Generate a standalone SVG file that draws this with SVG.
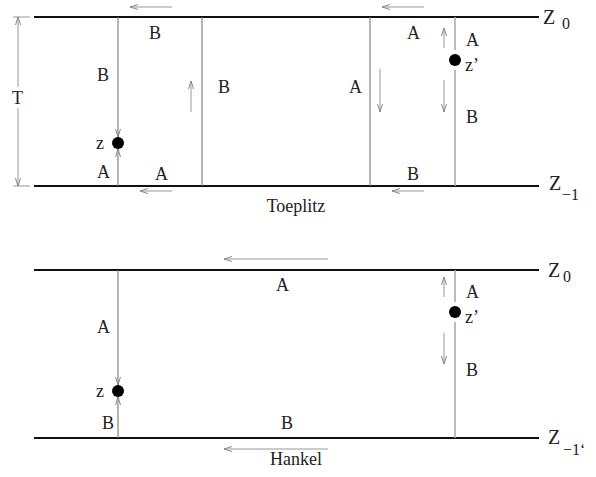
<svg xmlns="http://www.w3.org/2000/svg" width="596" height="477" viewBox="0 0 596 477">
<defs>
<style>
.bg{fill:#fff}
.main{stroke:#111;stroke-width:1.8;fill:none}
.vl{stroke:#777;stroke-width:1.1;fill:none}
.vl2{stroke:#aaa;stroke-width:1.6;fill:none}
.ar{stroke:#999;stroke-width:1;fill:none}
.lbl{font-family:"Liberation Serif","Times New Roman",serif;font-size:18px;fill:#222}
.cap{font-family:"Liberation Serif","Times New Roman",serif;font-size:18px;fill:#222;text-anchor:middle}
.zl{font-family:"Liberation Serif","Times New Roman",serif;font-size:20px;fill:#222}
.sub{font-family:"Liberation Serif","Times New Roman",serif;font-size:16px;fill:#222}
.dot{fill:#000}
</style>
<marker id="ah" viewBox="0 0 8 6" refX="8" refY="3" markerWidth="8" markerHeight="6" markerUnits="userSpaceOnUse" orient="auto">
<path d="M0,0.5 L8,3 L0,5.5" fill="none" stroke="#888" stroke-width="1"/>
</marker>
</defs>
<rect class="bg" x="0" y="0" width="596" height="477"/>

<g id="toeplitz">
<g id="t-lines">
<line class="main" x1="34" y1="17" x2="539" y2="17"/>
<line class="main" x1="34" y1="186" x2="539" y2="186"/>
</g>
<g id="t-dimension">
<line class="ar" x1="13" y1="17" x2="30" y2="17"/>
<line class="ar" x1="13" y1="186" x2="30" y2="186"/>
<line class="ar" x1="18" y1="87" x2="18" y2="17" marker-end="url(#ah)"/>
<line class="ar" x1="18" y1="108" x2="18" y2="186" marker-end="url(#ah)"/>
<text class="lbl" x="12" y="104">T</text>
</g>
<g id="t-connectors">
<line class="vl" x1="118" y1="17" x2="118" y2="137" marker-end="url(#ah)"/>
<line class="vl" x1="118" y1="186" x2="118" y2="149" marker-end="url(#ah)"/>
<line class="vl" x1="202" y1="17" x2="202" y2="186"/>
<line class="vl" x1="370" y1="17" x2="370" y2="186"/>
<line class="vl2" x1="455" y1="17" x2="455" y2="50"/>
<line class="vl2" x1="455" y1="70" x2="455" y2="186"/>
<line class="ar" x1="172" y1="7" x2="130" y2="7" marker-end="url(#ah)"/>
<line class="ar" x1="424" y1="7" x2="382" y2="7" marker-end="url(#ah)"/>
<line class="ar" x1="172" y1="191" x2="140" y2="191" marker-end="url(#ah)"/>
<line class="ar" x1="424" y1="191" x2="392" y2="191" marker-end="url(#ah)"/>
<line class="ar" x1="191" y1="112" x2="191" y2="81" marker-end="url(#ah)"/>
<line class="ar" x1="380" y1="69" x2="380" y2="112" marker-end="url(#ah)"/>
<line class="ar" x1="444" y1="48" x2="444" y2="28" marker-end="url(#ah)"/>
<line class="ar" x1="444" y1="80" x2="444" y2="112" marker-end="url(#ah)"/>
</g>
<g id="t-z">
<circle class="dot" cx="118" cy="143" r="6"/>
<text class="lbl" x="96" y="149">z</text>
</g>
<g id="t-zp">
<circle class="dot" cx="455" cy="60" r="6"/>
<text class="lbl" x="465" y="71">z’</text>
</g>
<g id="t-labels">
<text class="lbl" x="149" y="39">B</text>
<text class="lbl" x="97" y="81">B</text>
<text class="lbl" x="97" y="178">A</text>
<text class="lbl" x="155" y="180">A</text>
<text class="lbl" x="218" y="93">B</text>
<text class="lbl" x="349" y="93">A</text>
<text class="lbl" x="407" y="39">A</text>
<text class="lbl" x="466" y="46">A</text>
<text class="lbl" x="466" y="123">B</text>
<text class="lbl" x="407" y="180">B</text>
<text class="zl" x="543" y="24">Z</text>
<text class="sub" x="562" y="29">0</text>
<text class="zl" x="549" y="190">Z</text>
<text class="sub" x="562" y="200">−1</text>
<text class="cap" x="296" y="212">Toeplitz</text>
</g>
</g>

<g id="hankel">
<g id="h-lines">
<line class="main" x1="34" y1="270" x2="539" y2="270"/>
<line class="main" x1="34" y1="438" x2="539" y2="438"/>
</g>
<g id="h-connectors">
<line class="vl" x1="118" y1="270" x2="118" y2="385" marker-end="url(#ah)"/>
<line class="vl" x1="118" y1="438" x2="118" y2="397" marker-end="url(#ah)"/>
<line class="vl2" x1="455" y1="270" x2="455" y2="302"/>
<line class="vl2" x1="455" y1="322" x2="455" y2="438"/>
<line class="ar" x1="328" y1="259" x2="224" y2="259" marker-end="url(#ah)"/>
<line class="ar" x1="328" y1="449" x2="224" y2="449" marker-end="url(#ah)"/>
<line class="ar" x1="444" y1="297" x2="444" y2="277" marker-end="url(#ah)"/>
<line class="ar" x1="444" y1="333" x2="444" y2="364" marker-end="url(#ah)"/>
</g>
<g id="h-z">
<circle class="dot" cx="118" cy="391" r="6"/>
<text class="lbl" x="96" y="397">z</text>
</g>
<g id="h-zp">
<circle class="dot" cx="455" cy="312" r="6"/>
<text class="lbl" x="465" y="323">z’</text>
</g>
<g id="h-labels">
<text class="lbl" x="276" y="291">A</text>
<text class="lbl" x="97" y="333">A</text>
<text class="lbl" x="102" y="429">B</text>
<text class="lbl" x="281" y="429">B</text>
<text class="lbl" x="466" y="298">A</text>
<text class="lbl" x="466" y="376">B</text>
<text class="zl" x="548" y="277">Z</text>
<text class="sub" x="563" y="282">0</text>
<text class="zl" x="548" y="444">Z</text>
<text class="sub" x="563" y="455">−1‘</text>
<text class="cap" x="296" y="465">Hankel</text>
</g>
</g>
</svg>
